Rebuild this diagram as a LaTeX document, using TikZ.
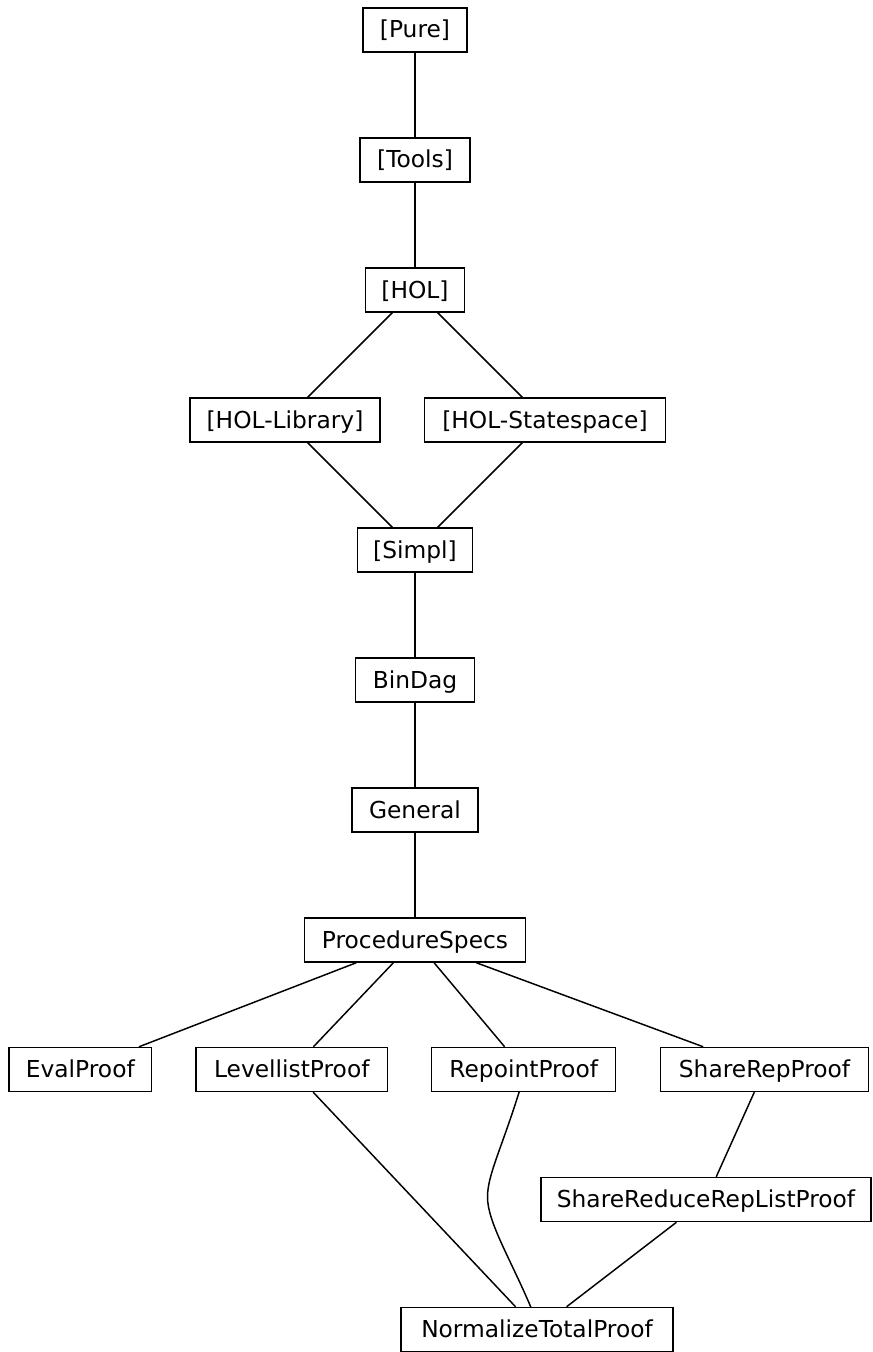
\documentclass[tikz,border=0pt]{standalone}
\usepackage{fontspec}
\setmainfont{DejaVu Sans}
\begin{document}
\begin{tikzpicture}[x=0.75pt,y=-0.75pt,
  box/.style={draw,line width=1.1pt,minimum height=33pt,inner sep=0pt,text height=16pt,text depth=4pt,font=\fontsize{17.5}{20}\selectfont},
  edge/.style={line width=1.1pt}]
\useasboundingbox (0,0) rectangle (872,1352);
\node[box,minimum width=78pt] (pure) at (415,30) {[Pure]};
\node[box,minimum width=82.5pt] (tools) at (415,160) {[Tools]};
\node[box,minimum width=74.25pt] (hol) at (415,290) {[HOL]};
\node[box,minimum width=142.5pt] (holl) at (285,420) {[HOL-Library]};
\node[box,minimum width=180.75pt] (hols) at (545,420) {[HOL-Statespace]};
\node[box,minimum width=86.25pt] (simpl) at (415,550) {[Simpl]};
\node[box,minimum width=89.25pt] (bindag) at (415,680) {BinDag};
\node[box,minimum width=94.3pt] (general) at (415,810) {General};
\node[box,minimum width=165.5pt] (procspecs) at (415,940) {ProcedureSpecs};
\node[box,minimum width=107pt] (eval) at (80.3,1069.5) {EvalProof};
\node[box,minimum width=143.8pt] (levellist) at (291.8,1069.5) {LevellistProof};
\node[box,minimum width=138pt] (repoint) at (523.7,1069.5) {RepointProof};
\node[box,minimum width=155.75pt] (sharerep) at (764.5,1069.5) {ShareRepProof};
\node[box,minimum width=247.5pt] (sharereduce) at (706,1199.5) {ShareReduceRepListProof};
\node[box,minimum width=204.2pt] (normalize) at (537,1329.5) {NormalizeTotalProof};
\draw[edge] (pure) -- (tools);
\draw[edge] (tools) -- (hol);
\draw[edge] (hol) -- (holl);
\draw[edge] (hol) -- (hols);
\draw[edge] (holl) -- (simpl);
\draw[edge] (hols) -- (simpl);
\draw[edge] (simpl) -- (bindag);
\draw[edge] (bindag) -- (general);
\draw[edge] (general) -- (procspecs);
\draw[edge] (procspecs) -- (eval);
\draw[edge] (procspecs) -- (levellist);
\draw[edge] (procspecs) -- (repoint);
\draw[edge] (procspecs) -- (sharerep);
\draw[edge] (levellist) -- (normalize);
\draw[edge] (sharerep) -- (sharereduce);
\draw[edge] (sharereduce) -- (normalize);
\coordinate (rpA) at (519.3,1091.5);
\coordinate (rpM) at (487.5,1197);
\coordinate (rpB) at (531,1307.5);
\draw[edge] (rpA) .. controls (501,1150) and (487.5,1175) .. (rpM) .. controls (487.5,1222) and (510,1258) .. (rpB);
\end{tikzpicture}
\end{document}
